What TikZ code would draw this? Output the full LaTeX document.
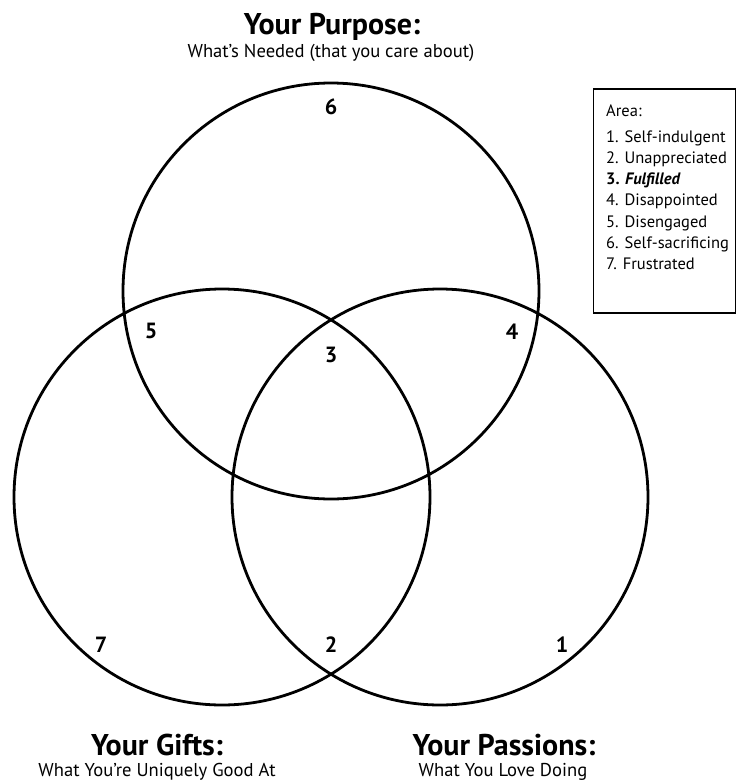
\documentclass[tikz,border=0pt]{standalone}
\usepackage{fontspec}
\setmainfont{PT Sans}
\begin{document}
\begin{tikzpicture}[x=1pt,y=-1pt,
  ring/.style={draw=black,line width=2.8pt},
  num/.style={font=\bfseries\fontsize{22}{22}\selectfont,inner sep=0pt,anchor=center},
  heading/.style={font=\bfseries\fontsize{30}{30}\selectfont,inner sep=0pt,anchor=base},
  subhead/.style={font=\fontsize{18.6}{18.6}\selectfont,inner sep=0pt,anchor=base},
  legendtext/.style={font=\fontsize{16.5}{16.5}\selectfont,inner sep=0pt,anchor=base west},
  legendframe/.style={draw=black,line width=1.6pt,inner sep=0pt,minimum width=142pt,minimum height=224pt}]
\useasboundingbox (0,0) rectangle (737,782);
\fill[white] (0,0) rectangle (737,782);
% circles
\draw[ring] (331,291) circle[radius=208pt];
\draw[ring] (222,497) circle[radius=208pt];
\draw[ring] (440,497) circle[radius=208pt];
% region numbers
\node[num] (n6) at (331,107) {6};
\node[num] (n5) at (151,331) {5};
\node[num] (n4) at (512,332) {4};
\node[num] (n3) at (331,355) {3};
\node[num] (n7) at (101,645) {7};
\node[num] (n2) at (331,645) {2};
\node[num] (n1) at (562,645) {1};
% headings
\node[heading] (purpose) at (332,34) {Your Purpose:};
\node[subhead] (purposesub) at (331,57) {What’s Needed (that you care about)};
\node[heading] (gifts) at (157,755) {Your Gifts:};
\node[subhead] (giftssub) at (157,776) {What You’re Uniquely Good At};
\node[heading] (passions) at (504,755) {Your Passions:};
\node[subhead] (passionssub) at (503,776) {What You Love Doing};
% legend
\node[legendframe] (legend) at (664.5,201) {};
\node[legendtext] (area) at (606,116) {Area:};
\node[legendtext] (l1) at (606,142) {1. Self-indulgent};
\node[legendtext] (l2) at (606,163.3) {2. Unappreciated};
\node[legendtext] (l3) at (606,184.6) {\bfseries 3. \itshape Fulfilled};
\node[legendtext] (l4) at (606,205.9) {4. Disappointed};
\node[legendtext] (l5) at (606,227.2) {5. Disengaged};
\node[legendtext] (l6) at (606,248.5) {6. Self-sacrificing};
\node[legendtext] (l7) at (606,269.8) {7. Frustrated};
\end{tikzpicture}
\end{document}
